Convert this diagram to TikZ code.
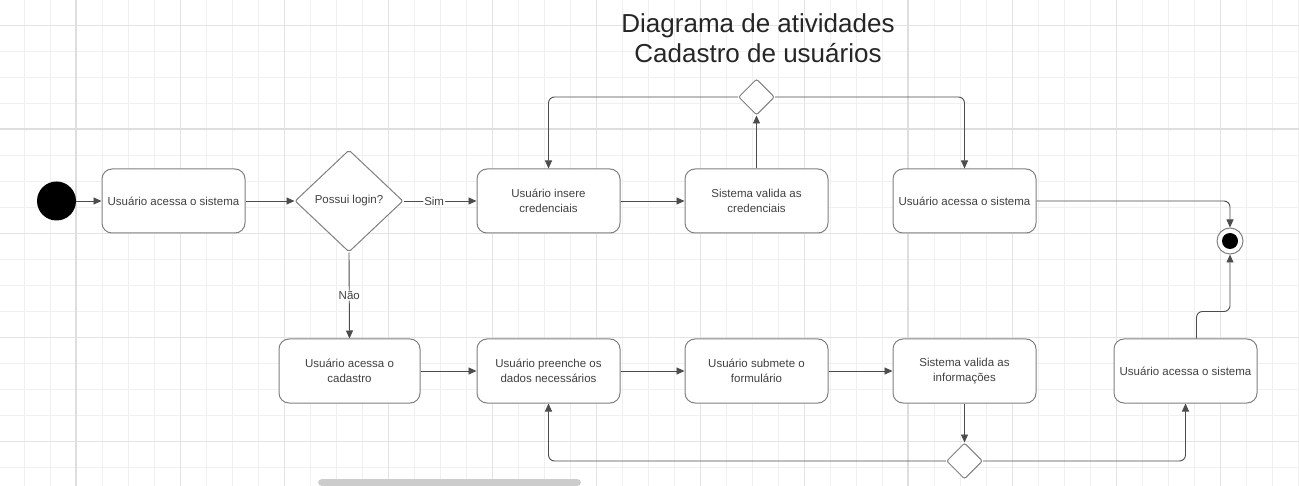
\documentclass[tikz,border=0pt]{standalone}
\usepackage{fontspec}
\setmainfont{Liberation Sans}
\usetikzlibrary{shapes.geometric,arrows.meta}
\begin{document}
\begin{tikzpicture}[x=1pt,y=-1pt,
        atv/.style={draw=black!50,line width=1pt,fill=white,rounded corners=10pt,minimum width=143pt,minimum height=64pt,align=center,text=black!75,font=\fontsize{11.5}{15}\selectfont},
        dec/.style={diamond,draw=black!50,line width=1pt,fill=white,rounded corners=2pt,inner sep=0pt,text=black!75,font=\fontsize{11.5}{15}\selectfont},
        seta/.style={draw=black!70,line width=.9pt,-{Triangle[length=8pt,width=7pt]},rounded corners=6pt},
        rot/.style={fill=white,inner sep=1pt,text=black!75,font=\fontsize{11.5}{15}\selectfont},
        fina/.style={line width=.8pt,black!6},
        media/.style={line width=.8pt,black!11},
        grossa/.style={line width=1.4pt,black!13}]
    \useasboundingbox(0,0)rectangle(1299,486);
    \fill[white](0,0)rectangle(1299,486);
    \foreach\x in{24,50,...,1298}\draw[fina](\x,0)--(\x,486);
    \foreach\y in{25,51,...,467}\draw[fina](0,\y)--(1299,\y);
    \foreach\x in{180,284,...,1298}\draw[media](\x,0)--(\x,486);
    \foreach\y in{25,233,337,441}\draw[media](0,\y)--(1299,\y);
    \foreach\x in{76,908}\draw[grossa](\x,0)--(\x,486);
    \draw[grossa](0,129)--(1299,129);
    \node[font=\fontsize{26}{30}\selectfont,align=center,text=black!85](titulo)at(758,38.5){Diagrama de atividades\\Cadastro de usuários};
    \node[circle,fill=black,minimum size=39pt,inner sep=0pt](ini)at(56.5,201){};
    \node[atv](a1)at(173.5,201){Usuário acessa o sistema};
    \node[dec,minimum width=108pt,minimum height=102pt](d1)at(349,201){Possui login?};
    \node[atv](a2)at(548.5,201){Usuário insere\\credenciais};
    \node[atv](a3)at(756.5,201){Sistema valida as\\credenciais};
    \node[atv](a4)at(964.5,201){Usuário acessa o sistema};
    \node[dec,minimum size=36pt](d2)at(756.5,97){};
    \node[circle,draw=black!50,fill=white,line width=1pt,minimum size=26pt,inner sep=0pt](fim)at(1230,241){};
    \fill(fim.center)circle[radius=8];
    \node[atv,minimum width=141pt](b1)at(349.5,371){Usuário acessa o\\cadastro};
    \node[atv](b2)at(548.5,371){Usuário preenche os\\dados necessários};
    \node[atv](b3)at(756.5,371){Usuário submete o\\formulário};
    \node[atv](b4)at(964.5,371){Sistema valida as\\informações};
    \node[atv](b5)at(1185.5,371){Usuário acessa o sistema};
    \node[dec,minimum size=36pt](d3)at(964.5,461){};
    \draw[seta](ini)--(a1);
    \draw[seta](a1)--(d1);
    \draw[seta](d1)--node[rot,pos=.42]{Sim}(a2);
    \draw[seta](a2)--(a3);
    \draw[seta](a3)--(d2);
    \draw[seta](d2.west)-|(a2.north);
    \draw[seta](d2.east)-|(a4.north);
    \draw[seta](a4.east)-|(fim.north);
    \draw[seta](d1.south)--node[rot]{Não}(b1.north);
    \draw[seta](b1)--(b2);
    \draw[seta](b2)--(b3);
    \draw[seta](b3)--(b4);
    \draw[seta](b4)--(d3);
    \draw[seta](d3.west)-|(b2.south);
    \draw[seta](d3.east)-|(b5.south);
    \draw[seta]([xshift=11pt]b5.north)--++(0,-27)-|(fim.south);
    \fill[black!20,rounded corners=4pt](318,479)rectangle(581,486);
\end{tikzpicture}
\end{document}
